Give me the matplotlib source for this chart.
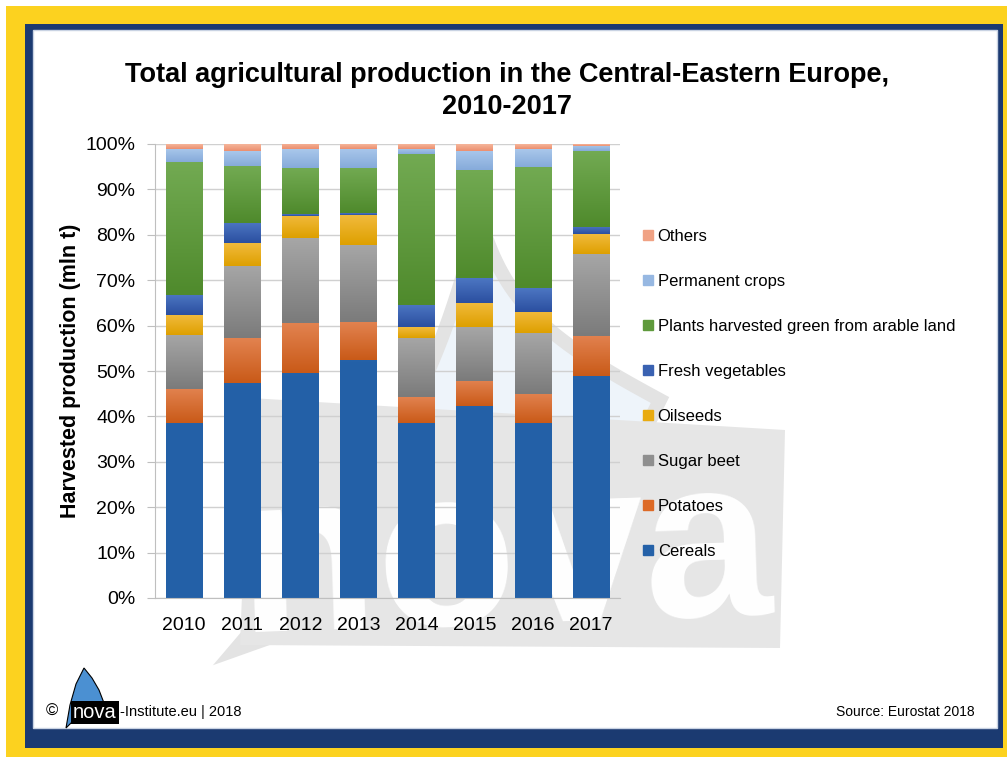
import numpy as np
import matplotlib.pyplot as plt
from matplotlib.patches import Rectangle, Polygon
from matplotlib.colors import LinearSegmentedColormap

plt.rcParams['font.family'] = ['Liberation Sans', 'DejaVu Sans']

# data (shares in %)
years = ['2010', '2011', '2012', '2013', '2014', '2015', '2016', '2017']
categories = ['Cereals', 'Potatoes', 'Sugar beet', 'Oilseeds', 'Fresh vegetables',
              'Plants harvested green from arable land', 'Permanent crops', 'Others']
cereals = [38.5, 47.3, 49.5, 52.5, 38.5, 42.2, 38.5, 48.8]
potatoes = [7.5, 9.9, 11.0, 8.2, 5.7, 5.6, 6.5, 9.0]
sugar_beet = [11.9, 15.9, 18.7, 17.1, 13.0, 11.8, 13.3, 18.0]
oilseeds = [4.4, 5.0, 5.0, 6.6, 2.4, 5.3, 4.7, 4.3]
fresh_veg = [4.5, 4.6, 0.4, 0.3, 4.9, 5.5, 5.2, 1.6]
green = [29.2, 12.5, 10.1, 10.0, 33.3, 23.9, 26.8, 16.7]
permanent = [2.9, 3.3, 4.1, 4.2, 1.2, 4.2, 3.9, 1.2]
others = [1.1, 1.5, 1.2, 1.1, 1.0, 1.5, 1.1, 0.4]
series = [cereals, potatoes, sugar_beet, oilseeds, fresh_veg, green, permanent, others]

# (top colour, bottom colour) for the excel-like gradient
grad = [('#2461a8', '#2360a7'),
        ('#e2824f', '#c95a18'),
        ('#a6a6a6', '#7b7b7b'),
        ('#f1ba3c', '#dea000'),
        ('#4c76c2', '#2b4fa0'),
        ('#72aa52', '#4f8a2c'),
        ('#a9c7eb', '#86abda'),
        ('#f5b59a', '#ec8f6f')]
legend_cols = ['#2461a8', '#dd6a26', '#8f8f8f', '#e9ab10', '#3a62b2', '#5f9a3c', '#97b8e2', '#f0a284']

W, H = 1007, 760
fig = plt.figure(figsize=(W / 100, H / 100), dpi=100)


def px(x, y):
    return (x / W, 1 - y / H)


# frame
fig.patches.append(Rectangle(px(6, 757), 1001 / W, 751 / H, transform=fig.transFigure,
                             facecolor='#fcd21f', edgecolor='none', zorder=0))
fig.patches.append(Rectangle(px(25, 748), 978 / W, 724 / H, transform=fig.transFigure,
                             facecolor='#1b3a71', edgecolor='none', zorder=0))
fig.patches.append(Rectangle(px(33, 728), 964 / W, 698 / H, transform=fig.transFigure,
                             facecolor='white', edgecolor='#c9d3e3', lw=1, zorder=0))

# faint nova watermark behind the plot
t = np.linspace(0, 1, 40)
left_edge = [(235 + 245 * s + 40 * np.sin(np.pi * s), 650 - 435 * s) for s in t]
right_edge = [(480 + 180 * s - 30 * np.sin(np.pi * s), 215 + 185 * s ** 0.8) for s in t]
sail = left_edge + right_edge + [(600, 520)]
fig.patches.append(Polygon([px(*p) for p in sail], closed=True, transform=fig.transFigure,
                           facecolor='#eef4fa', edgecolor='#e3e3e3', lw=10, zorder=0.5))
box = [(250, 398), (785, 430), (780, 648), (240, 645)]
fig.patches.append(Polygon([px(*p) for p in box], closed=True, transform=fig.transFigure,
                           facecolor='#e6e6e6', edgecolor='none', zorder=0.6))
fig.text(*px(505, 632), 'nova', fontsize=165, color='white', ha='center', va='baseline',
         fontweight='bold', rotation=2, zorder=0.7)

ax = fig.add_axes([155 / W, 1 - 598 / H, 465 / W, 454 / H])
ax.set_facecolor('none')
ax.set_zorder(2)

x = np.arange(len(years))
bottom = np.zeros(len(years))
for vals, (c_top, c_bot) in zip(series, grad):
    bars = ax.bar(x, vals, width=0.63, bottom=bottom, color=c_bot, edgecolor='none', zorder=2)
    cmap = LinearSegmentedColormap.from_list('g', [c_bot, c_top])
    for b in bars:
        x0, y0 = b.get_x(), b.get_y()
        img = ax.imshow(np.linspace(0, 1, 64).reshape(-1, 1), cmap=cmap, origin='lower',
                        extent=[x0, x0 + b.get_width(), y0, y0 + b.get_height()],
                        aspect='auto', zorder=2.1, interpolation='bilinear')
        img.set_clip_path(b)
    bottom += np.array(vals)

ax.set_xlim(-0.5, len(years) - 0.5)
ax.set_ylim(0, 100)
ax.set_yticks(np.arange(0, 101, 10))
ax.set_yticklabels([f'{v}%' for v in range(0, 101, 10)])
ax.set_xticks(x)
ax.set_xticklabels(years)
ax.grid(axis='y', color='#d0d0d0', lw=1, zorder=1)
ax.set_axisbelow(True)
for s in ['top', 'right']:
    ax.spines[s].set_visible(False)
ax.spines['left'].set_color('#bfbfbf')
ax.spines['bottom'].set_color('#bfbfbf')
ax.tick_params(axis='y', length=6, color='#bfbfbf', labelsize=14, pad=8)
ax.tick_params(axis='x', length=0, labelsize=14, pad=14)

ax.set_ylabel('Harvested production (mln t)', fontsize=15.5, fontweight='bold', labelpad=3)

fig.text(*px(507, 62), 'Total agricultural production in the Central-Eastern Europe,\n2010-2017',
         ha='center', va='top', fontsize=19.5, fontweight='bold', linespacing=1.3)

# legend (reversed order, as in the original)
handles = [Rectangle((0, 0), 1, 1, color=c) for c in legend_cols][::-1]
leg = fig.legend(handles, categories[::-1], loc='upper left', bbox_to_anchor=px(636, 222),
                 frameon=False, fontsize=12, handlelength=0.6, handleheight=0.6,
                 handletextpad=0.3, labelspacing=1.8, borderaxespad=0)

# footer
fig.text(*px(46, 716), '\u00a9', fontsize=12, va='baseline')
sail_small = [(66, 728), (70, 705), (76, 684), (84, 668), (92, 678), (99, 690), (104, 703),
              (92, 708), (78, 716)]
fig.patches.append(Polygon([px(*p) for p in sail_small], closed=True, transform=fig.transFigure,
                           facecolor='#4b90d2', edgecolor='black', lw=0.8, zorder=3))
fig.text(*px(73, 718), 'nova', fontsize=14.5, color='white', va='baseline', zorder=4,
         bbox=dict(boxstyle='square,pad=0.1', fc='black', ec='none'))
fig.text(*px(120, 716), '-Institute.eu | 2018', fontsize=10.5, va='baseline')
fig.text(*px(975, 716), 'Source: Eurostat 2018', fontsize=10, va='baseline', ha='right')

fig.savefig('out.png', dpi=100)
